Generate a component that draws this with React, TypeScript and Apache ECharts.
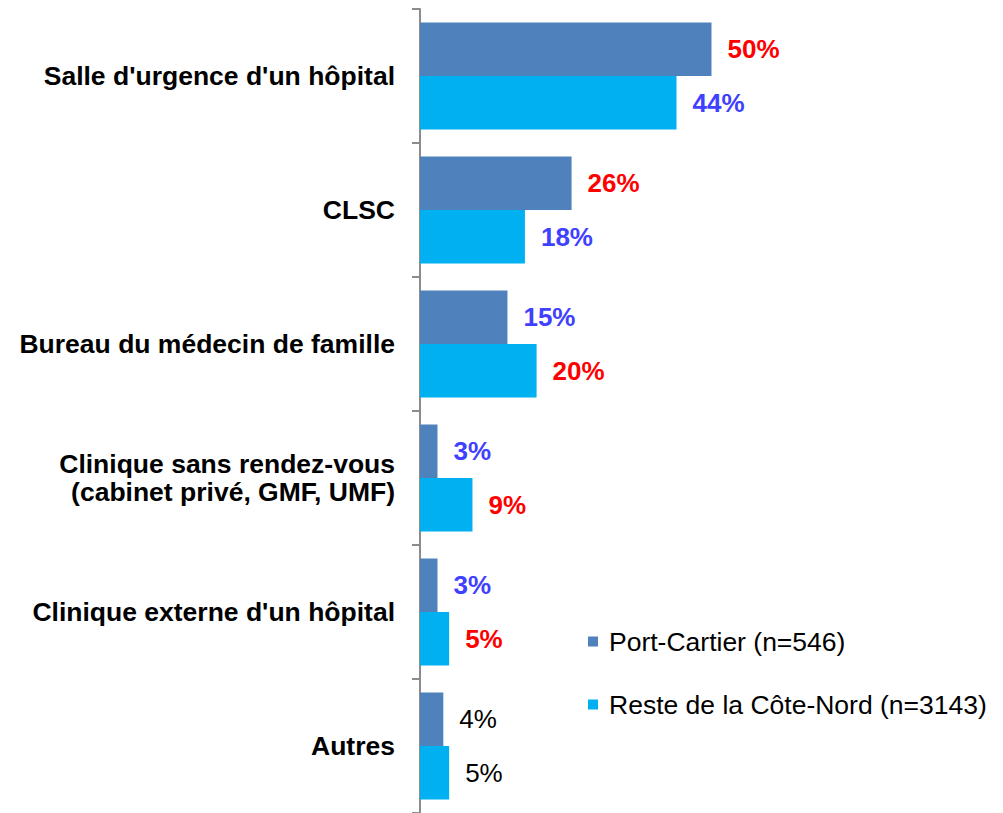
import React, { useEffect, useRef } from "react";
import * as echarts from "echarts";

const categories = [
  "Salle d'urgence d'un hôpital",
  "CLSC",
  "Bureau du médecin de famille",
  "Clinique sans rendez-vous\n(cabinet privé, GMF, UMF)",
  "Clinique externe d'un hôpital",
  "Autres",
];
const portCartier = [50, 26, 15, 3, 3, 4];
const resteCoteNord = [44, 18, 20, 9, 5, 5];
const portCartierLabelColors = ["#FF0000", "#FF0000", "#4040FF", "#4040FF", "#4040FF", "#000000"];
const resteLabelColors = ["#4040FF", "#4040FF", "#FF0000", "#FF0000", "#FF0000", "#000000"];
const seriesNames = ["Port-Cartier (n=546)", "Reste de la Côte-Nord (n=3143)"];

const FONT = "'Liberation Sans', Arial, sans-serif";

function buildData(values: number[], colors: string[]) {
  return values.map((v, i) => ({
    value: v,
    label: {
      color: colors[i],
      fontWeight: colors[i] === "#000000" ? "normal" : "bold",
    },
  }));
}

export default function App() {
  const ref = useRef<HTMLDivElement>(null);
  useEffect(() => {
    if (!ref.current) return;
    const chart = echarts.init(ref.current, undefined, { renderer: "svg" });
    const labelCommon = {
      show: true,
      position: "right",
      distance: 16,
      formatter: "{c}%",
      fontFamily: FONT,
      fontSize: 26,
    };
    chart.setOption({
      animation: false,
      backgroundColor: "#ffffff",
      textStyle: { fontFamily: FONT },
      grid: { left: 420, top: 9, width: 584, height: 809, containLabel: false },
      legend: {
        orient: "vertical",
        left: 583,
        top: 623,
        itemWidth: 10,
        itemHeight: 10,
        itemGap: 36,
        icon: "rect",
        data: seriesNames,
        textStyle: { fontFamily: FONT, fontSize: 26.5, color: "#000", padding: [0, 0, 0, 6] },
      },
      xAxis: { type: "value", min: 0, max: 100, show: false },
      yAxis: {
        type: "category",
        data: categories,
        inverse: true,
        axisLine: { show: true, lineStyle: { color: "#8C8C8C", width: 2 } },
        axisTick: { show: true, length: 8, lineStyle: { color: "#8C8C8C", width: 2 } },
        axisLabel: {
          margin: 25,
          fontFamily: FONT,
          fontSize: 26.5,
          fontWeight: "bold",
          color: "#000",
          lineHeight: 28,
          align: "right",
        },
        splitLine: { show: false },
      },
      series: [
        {
          name: seriesNames[0],
          type: "bar",
          data: buildData(portCartier, portCartierLabelColors),
          itemStyle: { color: "#4F81BD" },
          barGap: "0%",
          barCategoryGap: "20%",
          label: labelCommon,
        },
        {
          name: seriesNames[1],
          type: "bar",
          data: buildData(resteCoteNord, resteLabelColors),
          itemStyle: { color: "#00B0F0" },
          barGap: "0%",
          barCategoryGap: "20%",
          label: labelCommon,
        },
      ],
    });
    return () => chart.dispose();
  }, []);
  return (
    <div
      ref={ref}
      style={{ position: "fixed", left: 0, top: 0, width: 1003, height: 813 }}
    />
  );
}
